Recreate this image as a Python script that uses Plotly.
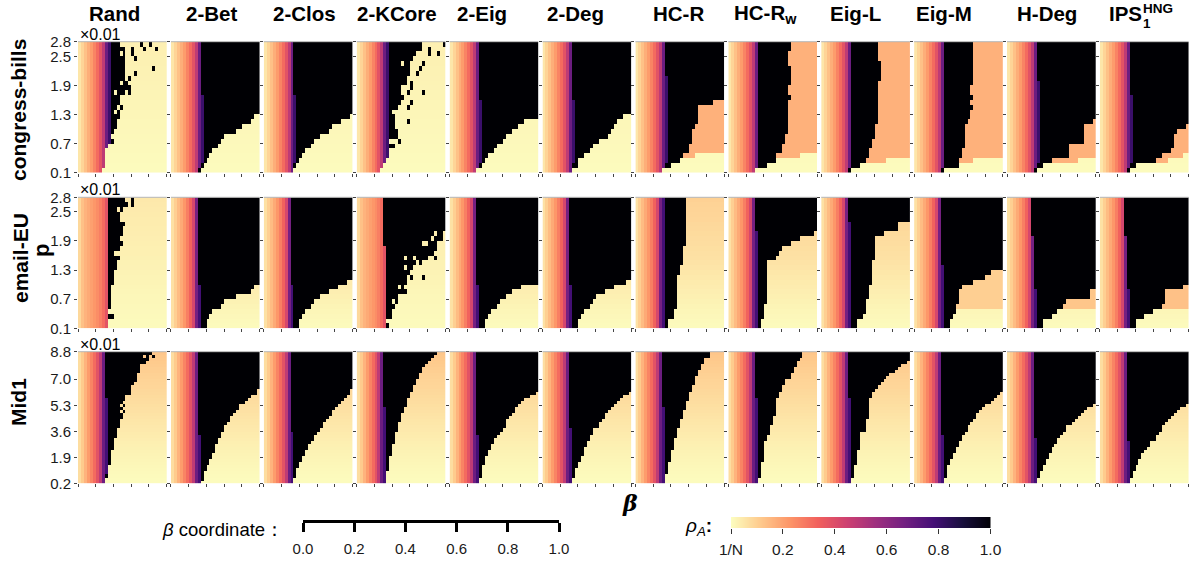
import numpy as np
import plotly.graph_objects as go

METHODS = ["Rand", "2-Bet", "2-Clos", "2-KCore", "2-Eig", "2-Deg", "HC-R", "HC-Rw", "Eig-L", "Eig-M", "H-Deg", "IPS"]
DATASETS = ["congress-bills", "email-EU", "Mid1"]
P_EDGES_SMALL = [round(0.1 + 0.1 * i, 1) for i in range(28)]
P_EDGES_MID = [round(0.2 + 0.2 * i, 1) for i in range(44)]
P_TICKS_SMALL = [0.1, 0.7, 1.3, 1.9, 2.5, 2.8]
P_TICKS_MID = [0.2, 1.9, 3.6, 5.3, 7.0, 8.8]
BETA_TICKS = [0.0, 0.2, 0.4, 0.6, 0.8, 1.0]
RHO_TICKS = [0.0, 0.2, 0.4, 0.6, 0.8, 1.0]
RHO_LABELS = ["1/N", "0.2", "0.4", "0.6", "0.8", "1.0"]
N_BETA = 30

# rho_A by beta column in the low-beta band
GRADIENT_CONGRESS = [.05, .09, .13, .17, .21, .26, .31, .38, .48, .68, .80, .85]
GRADIENT_EMAIL = [.06, .10, .14, .18, .22, .27, .33, .42, .66, .78, .82]
GRADIENT_EMAIL_RAND = [.08, .13, .16, .18, .20, .22, .24, .27, .31, .38, .62]
GRADIENT_MID = [.07, .11, .16, .21, .26, .31, .38, .48, .68, .78, .84]

# rho_A right of the transition, bottom row to top row
TAIL_CONGRESS = [.004, .005, .006, .007, .008, .009, .01, .011, .012, .013, .014, .015, .016, .017,
                 .018, .019, .02, .021, .022, .023, .024, .025, .026, .027, .028, .029, .03]
TAIL_EMAIL = [.006, .008, .012, .016, .02, .024, .028, .032, .036, .04, .044, .048, .052, .056,
              .06, .063, .066, .069, .072, .075, .078, .081, .084, .087, .09, .092, .095]
TAIL_EMAIL_PALE = [.006, .007, .008, .01, .011, .013, .014, .016, .017, .019, .02, .022, .023, .025,
                   .026, .028, .029, .031, .032, .034, .035, .037, .038, .04, .041, .043, .045]
TAIL_MID = [.004, .005, .007, .009, .011, .013, .015, .017, .02, .022, .024, .027, .029, .031, .034,
            .037, .04, .043, .045, .048, .051, .054, .057, .06, .063, .066, .069, .072, .075, .078,
            .081, .084, .087, .09, .093, .096, .1, .103, .106, .11, .113, .116, .12]

# columns in the gradient band, bottom row to top row
GRAD_CONGRESS = {
    "Rand": [8, 9, 9, 9, 9, 10] + [11] * 21,
    "2-Bet": [9, 10] + [11] * 14 + [10] * 11,
    "2-Clos": [10, 10] + [11] * 14 + [10] * 11,
    "2-KCore": [8, 9, 10] + [11] * 24,
    "2-Eig": [9, 10] + [11] * 13 + [10] * 12,
    "2-Deg": [10, 10] + [11] * 13 + [10] * 12,
    "HC-R": [9, 10] + [11] * 18 + [10] * 7,
    "HC-Rw": [9] + [10] * 26,
    "Eig-L": [9] + [10] * 26,
    "Eig-M": [9] + [10] * 26,
    "H-Deg": [9, 10] + [11] * 17 + [10] * 8,
    "IPS": [9, 10] + [11] * 14 + [10] * 11,
}
GRAD_EMAIL = {
    "Rand": [10] * 27,
    "2-Bet": [10] * 9 + [9] * 18,
    "2-Clos": [10] * 9 + [9] * 18,
    "2-KCore": [10] * 17 + [9] * 10,
    "2-Eig": [10] * 9 + [9] * 18,
    "2-Deg": [10] * 9 + [9] * 18,
    "HC-R": [10] * 27,
    "HC-Rw": [10] * 20 + [9] * 7,
    "Eig-L": [10] * 22 + [9] * 5,
    "Eig-M": [10] * 13 + [9] * 14,
    "H-Deg": [10] * 8 + [9] * 11 + [8] * 8,
    "IPS": [10] * 8 + [9] * 11 + [8] * 8,
}
GRAD_MID = {
    "Rand": [9, 9, 9] + [10] * 25 + [9] * 15,
    "2-Bet": [10] * 16 + [9] * 27,
    "2-Clos": [10] * 17 + [9] * 26,
    "2-KCore": [10] * 25 + [9] * 18,
    "2-Eig": [10] * 16 + [9] * 27,
    "2-Deg": [10] * 18 + [9] * 25,
    "HC-R": [10] * 25 + [9] * 18,
    "HC-Rw": [10] * 28 + [9] * 15,
    "Eig-L": [10] * 28 + [9] * 15,
    "Eig-M": [10] * 16 + [9] * 27,
    "H-Deg": [10] * 15 + [9] * 28,
    "IPS": [10] * 14 + [9] * 29,
}

# column where the black region ends, bottom row to top row (30 = right edge)
BLACK_CONGRESS = {
    "Rand": [0, 0, 0, 0, 0, 0, 12, 0, 12, 13, 13, 14, 14, 13, 14, 14, 16, 17, 17, 16, 16, 16, 17, 16, 16, 16, 15],
    "2-Bet": [10, 11, 12, 13, 14, 16, 17, 18, 22, 24, 27, 28] + [30] * 15,
    "2-Clos": [10, 11, 12, 13, 14, 16, 17, 19, 22, 23, 26, 29] + [30] * 15,
    "2-KCore": [0, 9, 10, 11, 11, 12, 11, 14, 14, 13, 13, 13, 13, 14, 16, 16, 16, 15, 17, 17, 18, 18, 18, 19, 20, 22, 22],
    "2-Eig": [9, 11, 12, 13, 15, 16, 18, 19, 21, 23, 25] + [30] * 16,
    "2-Deg": [10, 12, 12, 14, 16, 17, 19, 22, 23, 24, 25, 27] + [30] * 15,
    "HC-R": [9, 12, 15, 16, 18, 18, 19, 19, 19, 20, 21, 21, 21, 21, 26] + [30] * 12,
    "HC-Rw": [9, 13, 16, 16, 18, 18, 19, 19, 20, 20, 20, 20, 20, 20, 20, 21, 20, 20, 21, 21, 21, 21, 20, 20, 20, 21, 21],
    "Eig-L": [10, 13, 15, 16, 16, 17, 17, 18, 18, 18, 19, 19, 19, 19, 19, 19, 19, 19, 19, 20, 20, 20, 20, 19, 19, 19, 19],
    "Eig-M": [10, 15, 15, 16, 16, 17, 17, 17, 17, 17, 18, 19, 19, 20, 19, 20, 19, 19, 20, 20, 20, 20, 20, 20, 20, 20, 20],
    "H-Deg": [10, 12, 15, 21, 21, 21, 26, 26, 26, 26, 29] + [30] * 16,
    "IPS": [10, 12, 19, 21, 24, 25, 25, 25, 26, 29] + [30] * 17,
}
BLACK_EMAIL = {
    "Rand": [0, 0, 11, 0, 11, 11, 11, 11, 11, 12, 12, 12, 13, 13, 14, 12, 14, 14, 14, 15, 15, 15, 14, 14, 15, 17, 16],
    "2-Bet": [12, 12, 13, 14, 17, 18, 22, 27, 28] + [30] * 18,
    "2-Clos": [12, 12, 13, 14, 16, 17, 19, 22, 25, 28] + [30] * 17,
    "2-KCore": [11, 0, 12, 12, 13, 12, 14, 17, 14, 17, 17, 18, 19, 20, 24, 26, 27, 27, 29] + [30] * 8,
    "2-Eig": [12, 12, 13, 14, 16, 17, 19, 21, 24] + [30] * 18,
    "2-Deg": [12, 12, 13, 14, 16, 17, 18, 21, 24, 28] + [30] * 17,
    "HC-R": [11, 11, 13, 13, 14, 14, 14, 14, 14, 14, 14, 15, 15, 16, 16, 16, 16] + [17] * 10,
    "HC-Rw": [11, 11, 12, 12, 12, 13, 13, 13, 13, 13, 13, 13, 13, 13, 16, 17, 18, 21, 24, 29] + [30] * 7,
    "Eig-L": [12, 12, 14, 15, 15, 15, 16, 16, 16, 17, 17, 17, 17, 17, 18, 18, 18, 18, 18, 21, 26, 26] + [30] * 5,
    "Eig-M": [12, 12, 13, 14, 14, 15, 15, 15, 16, 20, 24, 26] + [30] * 15,
    "H-Deg": [12, 12, 15, 17, 19, 20, 28, 28] + [30] * 19,
    "IPS": [12, 12, 15, 18, 21, 22, 22, 22, 28] + [30] * 18,
}
BLACK_MID = {
    "Rand": [9, 9, 10, 9, 10, 10, 11, 11, 11, 11, 11, 12, 12, 12, 12, 13, 13, 13, 14, 14, 14, 15, 15, 16, 15, 16, 16, 16, 17, 18, 18, 18, 19, 20, 20, 20, 21, 21, 21, 23, 24, 24, 25],
    "2-Bet": [10, 11, 11, 11, 12, 12, 13, 13, 14, 14, 15, 15, 15, 16, 16, 17, 17, 18, 18, 19, 20, 20, 21, 22, 23, 23, 25, 26, 27, 29, 29] + [30] * 12,
    "2-Clos": [10, 10, 11, 11, 11, 12, 12, 13, 13, 14, 14, 15, 15, 16, 17, 17, 18, 19, 20, 20, 21, 22, 23, 23, 24, 25, 26, 27, 28, 29, 29] + [30] * 12,
    "2-KCore": [10, 10, 10, 10, 11, 11, 11, 11, 11, 12, 12, 12, 12, 13, 13, 13, 13, 14, 14, 14, 15, 15, 15, 16, 16, 17, 17, 17, 18, 18, 19, 19, 20, 20, 21, 21, 22, 22, 23, 24, 25, 26, 27],
    "2-Eig": [10, 10, 11, 11, 11, 11, 12, 12, 12, 13, 13, 14, 14, 15, 15, 16, 17, 18, 19, 19, 19, 20, 21, 22, 22, 23, 24, 25, 27, 29] + [30] * 13,
    "2-Deg": [10, 10, 11, 11, 11, 12, 12, 13, 13, 14, 14, 14, 15, 15, 16, 16, 17, 17, 19, 19, 20, 21, 21, 22, 23, 24, 25, 26, 27, 29] + [30] * 13,
    "HC-R": [10, 10, 10, 11, 11, 11, 11, 12, 12, 12, 12, 13, 13, 13, 13, 14, 14, 14, 15, 15, 15, 16, 16, 16, 17, 17, 17, 18, 18, 18, 19, 19, 20, 20, 20, 21, 21, 22, 22, 23, 23, 25, 25],
    "HC-Rw": [10, 10, 11, 11, 11, 11, 11, 12, 12, 12, 12, 12, 12, 12, 13, 13, 14, 14, 14, 15, 15, 15, 16, 16, 16, 16, 16, 16, 17, 17, 18, 18, 19, 19, 21, 21, 22, 22, 23, 23, 24, 25, 25],
    "Eig-L": [10, 10, 11, 11, 11, 11, 12, 12, 12, 12, 12, 13, 13, 13, 13, 13, 13, 15, 15, 15, 15, 16, 16, 16, 16, 16, 16, 16, 17, 17, 18, 19, 20, 21, 22, 23, 25, 26, 27, 29] + [30] * 3,
    "Eig-M": [10, 10, 11, 11, 11, 11, 12, 12, 13, 13, 14, 14, 15, 15, 16, 16, 17, 18, 18, 19, 20, 21, 21, 22, 23, 24, 26, 27, 28, 29] + [30] * 13,
    "H-Deg": [10, 10, 11, 11, 12, 12, 13, 13, 14, 14, 15, 15, 16, 17, 17, 18, 19, 20, 20, 22, 23, 24, 25, 26, 27, 29] + [30] * 17,
    "IPS": [10, 10, 11, 11, 12, 12, 13, 13, 14, 14, 15, 16, 17, 17, 19, 19, 20, 21, 21, 22, 23, 24, 25, 26, 27, 29] + [30] * 17,
}

# column where the orange plateau ends (30 = right edge, 0 = none)
ORANGE_CONGRESS = {
    "HC-R": [0, 0, 0, 20] + [30] * 23,
    "HC-Rw": [0, 0, 0, 24] + [30] * 23,
    "Eig-L": [0, 0, 22] + [30] * 24,
    "Eig-M": [0, 0, 20] + [30] * 24,
    "H-Deg": [0, 0, 24] + [30] * 24,
    "IPS": [0, 0, 23, 28] + [30] * 23,
}
ORANGE_EMAIL = {
    "Eig-M": [0, 0, 0, 0] + [30] * 23,
    "H-Deg": [0, 0, 0, 0] + [30] * 23,
    "IPS": [0, 0, 0, 0] + [30] * 23,
}
ORANGE_LEVEL_CONGRESS = 0.165
ORANGE_LEVEL_EMAIL = {"Eig-M": 0.10, "H-Deg": 0.12, "IPS": 0.13}

# isolated cells (row, column)
BLACK_SPECKS = {
    ("congress-bills", "Rand"): [(21, 25), (25, 22), (26, 21), (26, 24), (25, 26), (25, 18), (24, 18), (23, 19), (20, 19), (19, 17), (17, 17), (16, 17), (13, 14)],
    ("congress-bills", "2-KCore"): [(10, 17), (16, 22), (20, 20), (21, 21), (22, 22), (18, 18), (16, 17), (14, 18), (13, 17), (17, 18), (5, 12), (6, 14), (25, 24), (26, 29), (24, 24), (24, 27)],
    ("email-EU", "Rand"): [(2, 11), (17, 14), (21, 15), (25, 18), (26, 18)],
    ("email-EU", "2-KCore"): [(10, 22), (8, 15), (10, 18), (5, 13), (13, 21), (14, 26)],
    ("Mid1", "Rand"): [(41, 25)],
}
PALE_SPECKS = {
    ("congress-bills", "Rand"): [(12, 12), (16, 12), (22, 16), (18, 14), (24, 14), (26, 14)],
    ("congress-bills", "2-KCore"): [(12, 12), (16, 15), (14, 15), (22, 15)],
    ("email-EU", "Rand"): [(24, 13)],
    ("email-EU", "2-KCore"): [(19, 26), (19, 29), (17, 22), (17, 23), (18, 25), (14, 19), (14, 16), (12, 16)],
    ("Mid1", "Rand"): [(41, 22), (23, 14), (25, 14), (26, 15), (28, 16)],
}

SERIES = {
    "congress-bills": (GRAD_CONGRESS, BLACK_CONGRESS, ORANGE_CONGRESS, TAIL_CONGRESS, P_EDGES_SMALL, P_TICKS_SMALL),
    "email-EU": (GRAD_EMAIL, BLACK_EMAIL, ORANGE_EMAIL, TAIL_EMAIL, P_EDGES_SMALL, P_TICKS_SMALL),
    "Mid1": (GRAD_MID, BLACK_MID, {}, TAIL_MID, P_EDGES_MID, P_TICKS_MID),
}


def gradient_for(ds, m):
    if ds == "congress-bills":
        return GRADIENT_CONGRESS
    if ds == "Mid1":
        return GRADIENT_MID
    return GRADIENT_EMAIL_RAND if m in ("Rand", "2-KCore") else GRADIENT_EMAIL


def panel_matrix(ds, m):
    grads, blacks, oranges, tail, edges, _ = SERIES[ds]
    if ds == "email-EU" and m in ("Rand", "2-KCore"):
        tail = TAIL_EMAIL_PALE
    n = len(edges) - 1
    grad, black = grads[m], blacks[m]
    orange = oranges.get(m, [0] * n)
    level = ORANGE_LEVEL_CONGRESS if ds == "congress-bills" else ORANGE_LEVEL_EMAIL.get(m, 0.1)
    gradient = gradient_for(ds, m)
    z = []
    for r in range(n):
        row = []
        for c in range(N_BETA):
            if c < grad[r]:
                row.append(gradient[c])
            elif c < black[r]:
                row.append(1.0)
            elif c < orange[r]:
                row.append(level)
            else:
                row.append(tail[r])
        z.append(row)
    for r, c in BLACK_SPECKS.get((ds, m), []):
        z[r][c] = 1.0
    for r, c in PALE_SPECKS.get((ds, m), []):
        z[r][c] = tail[r]
    return z


W, H = 1189, 561
LEFT0, PITCH, PW = 78.0, 92.9, 88.7
ROWS_PX = [(41.7, 172.7), (197.3, 328.3), (351.7, 483.3)]
FONT = "Liberation Sans"
INK = "#1a1a1a"


def px(x):
    return x / W


def py(y):
    return 1 - y / H


beta_edges = list(np.linspace(0, 1, N_BETA + 1))
fig = go.Figure()
layout = {}
shapes = []
n_ax = 0
for i, ds in enumerate(DATASETS):
    edges, ticks = SERIES[ds][4], SERIES[ds][5]
    for j, m in enumerate(METHODS):
        n_ax += 1
        sfx = "" if n_ax == 1 else str(n_ax)
        fig.add_trace(go.Heatmap(x=beta_edges, y=edges, z=panel_matrix(ds, m), coloraxis="coloraxis",
                                 xaxis="x" + sfx, yaxis="y" + sfx, name=f"{ds} {m}", xgap=0, ygap=0))
        x0 = LEFT0 + PITCH * j
        layout["xaxis" + sfx] = dict(domain=[px(x0), px(x0 + PW)], range=[0, 1], anchor="y" + sfx,
                                     tickvals=BETA_TICKS, showticklabels=False, ticks="outside", ticklen=3,
                                     tickwidth=1, tickcolor="#444", showgrid=False, zeroline=False,
                                     showline=False)
        layout["yaxis" + sfx] = dict(domain=[py(ROWS_PX[i][1]), py(ROWS_PX[i][0])], range=[edges[0], edges[-1]],
                                     anchor="x" + sfx, tickvals=ticks, ticktext=[f"{t:.1f}" for t in ticks],
                                     showticklabels=j == 0, ticks="outside", ticklen=3, tickwidth=1,
                                     tickcolor="#444", showgrid=False, zeroline=False, showline=False,
                                     tickfont=dict(family=FONT, size=15, color=INK))
        shapes.append(dict(type="line", xref="x" + sfx + " domain", yref="y" + sfx + " domain", x0=0, x1=1, y0=1, y1=1,
                           line=dict(color="#b5b5b5", width=1), layer="above"))

# beta-coordinate scale bar
n_ax += 1
sfx = str(n_ax)
fig.add_trace(go.Scatter(x=[0, 1], y=[0, 0], mode="none", xaxis="x" + sfx, yaxis="y" + sfx, showlegend=False,
                         hoverinfo="skip"))
layout["xaxis" + sfx] = dict(domain=[px(303), px(559)], range=[0, 1], anchor="y" + sfx, tickvals=BETA_TICKS,
                             ticktext=[f"{t:.1f}" for t in BETA_TICKS], ticks="outside", ticklen=9, tickwidth=2.5,
                             tickcolor="#000", showline=True, linewidth=2.5, linecolor="#000", showgrid=False,
                             zeroline=False, ticklabelstandoff=4,
                             tickfont=dict(family=FONT, size=15, color=INK))
layout["yaxis" + sfx] = dict(domain=[py(520), py(514)], range=[0, 1], anchor="x" + sfx, visible=False)

# rho colour strip
n_ax += 1
sfx = str(n_ax)
strip = list(np.linspace(0, 1, 261))
fig.add_trace(go.Heatmap(x=strip, y=[0, 1], z=[strip, strip], coloraxis="coloraxis", xaxis="x" + sfx,
                         yaxis="y" + sfx, hoverinfo="skip"))
layout["xaxis" + sfx] = dict(domain=[px(731), px(990.5)], range=[0, 1], anchor="y" + sfx, tickvals=RHO_TICKS,
                             ticktext=RHO_LABELS, ticks="outside", ticklen=5, tickwidth=1, tickcolor="#333",
                             showgrid=False, zeroline=False, showline=False, ticklabelstandoff=2,
                             tickfont=dict(family=FONT, size=15.5, color=INK))
layout["yaxis" + sfx] = dict(domain=[py(528), py(517)], range=[0, 1], anchor="x" + sfx, visible=False)


def note(text, x, y, size, bold=False, angle=0, xanchor="center", family=FONT):
    t = f"<b>{text}</b>" if bold else text
    return dict(text=t, x=px(x), y=py(y), xref="paper", yref="paper", showarrow=False, xanchor=xanchor,
                yanchor="middle", textangle=angle, font=dict(family=family, size=size, color="#000"))


notes = []
TITLES = ["Rand", "2-Bet", "2-Clos", "2-KCore", "2-Eig", "2-Deg", "HC-R", "HC-R<sub>w</sub>", "Eig-L", "Eig-M", "H-Deg"]
TITLE_CENTERS = [114, 211, 304, 397, 482, 575, 678, 765, 855, 944, 1047]
for t, cx in zip(TITLES, TITLE_CENTERS):
    notes.append(note(t, cx, 14, 20.5, bold=True))
notes.append(note("IPS", 1107, 14, 20.5, bold=True, xanchor="left"))
notes.append(note("HNG", 1141, 8, 13.5, bold=True, xanchor="left"))
notes.append(note("1", 1141, 24, 13.5, bold=True, xanchor="left"))
for (label, y, x) in [("congress-bills", 110, 19), ("email-EU", 258, 20), ("Mid1", 402, 18)]:
    notes.append(note(label, x, y, 21, bold=True, angle=-90))
notes.append(note("p", 41, 251, 22, bold=True, angle=-90))
notes.append(note("<i>β</i>", 630, 503, 22, bold=True, family="DejaVu Serif"))
for y in [35, 190, 344]:
    notes.append(note("×0.01", 78, y, 16, xanchor="left"))
notes.append(note("<i>β</i> coordinate：", 160, 529, 18.5, xanchor="left"))
notes.append(note("<i>ρ<sub>A</sub></i><b>:</b>", 683, 527, 19, xanchor="left"))

fig.update_layout(width=W, height=H, autosize=False, margin=dict(l=0, r=0, t=0, b=0, autoexpand=False),
                  paper_bgcolor="white", plot_bgcolor="white", showlegend=False, annotations=notes, shapes=shapes,
                  coloraxis=dict(colorscale="magma_r", cmin=0, cmax=1, showscale=False), **layout)
fig.write_html("out.html", config={"displayModeBar": False},
               post_script="document.body.style.margin='0';document.body.style.overflow='hidden';")
